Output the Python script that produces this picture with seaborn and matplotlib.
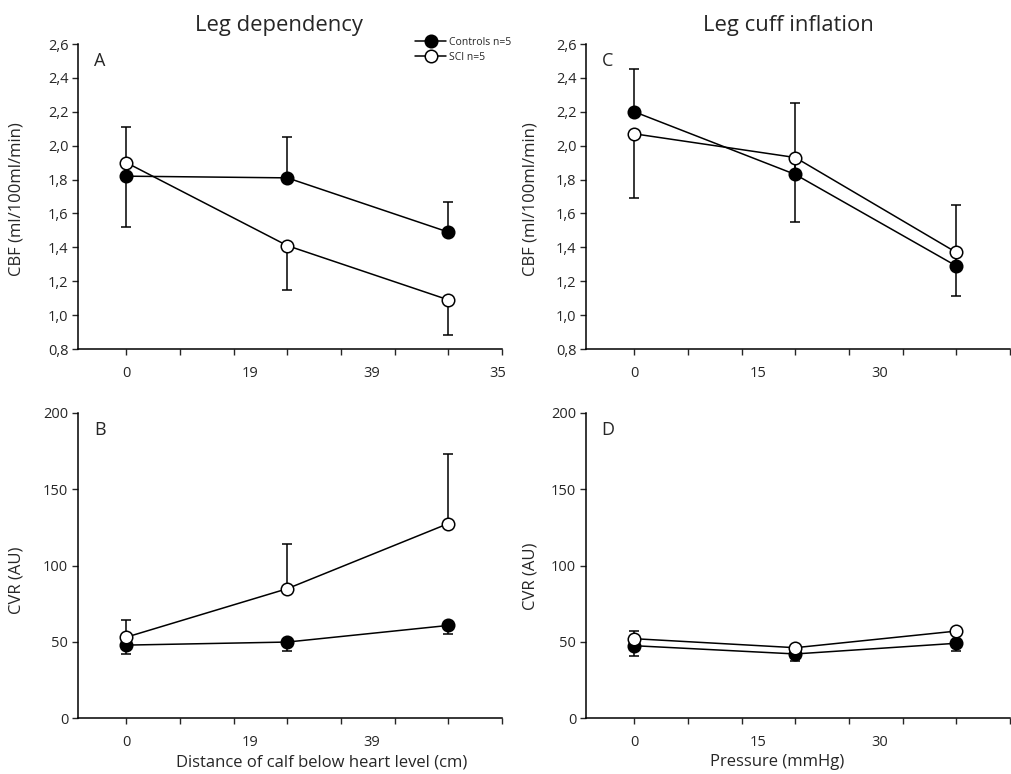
import matplotlib
matplotlib.use("Agg")
import matplotlib.pyplot as plt
import seaborn as sns

sns.set_style("ticks")
plt.rcParams['font.family'] = ['Open Sans', 'DejaVu Sans']

# x positions of the three conditions
steps = [0, 3, 6]

# A - CBF, leg dependency
cbf_dep_ctrl = [1.82, 1.81, 1.49]
cbf_dep_ctrl_err = [0.29, 0.24, 0.18]   # upper only
cbf_dep_sci = [1.90, 1.41, 1.09]
cbf_dep_sci_err = [0.38, 0.26, 0.21]    # lower only

# B - CVR, leg dependency
cvr_dep_ctrl = [47.8, 49.8, 60.7]
cvr_dep_ctrl_err = [5.9, 5.8, 5.5]      # lower only
cvr_dep_sci = [53.0, 84.8, 127.5]
cvr_dep_sci_err = [11.2, 29.4, 45.6]    # upper only

# C - CBF, leg cuff inflation
cbf_cuff_ctrl = [2.20, 1.83, 1.29]
cbf_cuff_ctrl_err = [0.25, 0.42, 0.36]
cbf_cuff_sci = [2.07, 1.93, 1.37]
cbf_cuff_sci_err = [0.38, 0.38, 0.26]

# D - CVR, leg cuff inflation
cvr_cuff_ctrl = [47.4, 42.0, 49.0]
cvr_cuff_ctrl_err = [6.5, 4.4, 5.3]
cvr_cuff_sci = [52.0, 46.1, 57.0]
cvr_cuff_sci_err = [4.9, 1.5, 2.0]

dep_ticklabels = ["0", "19", "39", "35"]
dep_ticklabels_b = ["0", "19", "39"]
cuff_ticklabels = ["0", "15", "30"]
label_pos = [0, 2.3, 4.57, 6.93]

cbf_ticks = [0.8, 1.0, 1.2, 1.4, 1.6, 1.8, 2.0, 2.2, 2.4, 2.6]
cvr_ticks = [0, 50, 100, 150, 200]

W, H = 1012, 774
fig = plt.figure(figsize=(W / 100, H / 100), dpi=100)


def make_ax(left_px, top_px):
    return fig.add_axes([left_px / W, 1 - (top_px + 305) / H, 424 / W, 305 / H])


def draw(ax, ctrl, ctrl_err, ctrl_up, sci, sci_err, letter, labels):
    z = [0, 0, 0]
    ctrl_yerr = [z, ctrl_err] if ctrl_up else [ctrl_err, z]
    sci_yerr = [sci_err, z] if ctrl_up else [z, sci_err]
    ax.errorbar(steps, ctrl, yerr=ctrl_yerr, fmt='none', ecolor='black',
                elinewidth=1.1, capsize=3.6, capthick=1.1, zorder=1)
    ax.errorbar(steps, sci, yerr=sci_yerr, fmt='none', ecolor='black',
                elinewidth=1.1, capsize=3.6, capthick=1.1, zorder=1)
    sns.lineplot(x=steps, y=ctrl, ax=ax, color='black', marker='o', markersize=9,
                 markerfacecolor='black', markeredgecolor='black', markeredgewidth=1.1,
                 linewidth=1.1, label='Controls n=5', zorder=3)
    sns.lineplot(x=steps, y=sci, ax=ax, color='black', marker='o', markersize=9,
                 markerfacecolor='white', markeredgecolor='black', markeredgewidth=1.1,
                 linewidth=1.1, label='SCI n=5', zorder=3)
    ax.set_xlim(-0.9, 7.0)
    ax.xaxis.remove_overlapping_locs = False
    ax.set_xticks(label_pos[:len(labels)], labels=labels)
    ax.set_xticks(range(0, 8), minor=True)
    ax.tick_params(axis='x', which='major', length=0, pad=12, labelsize=10.5)
    ax.tick_params(axis='x', which='minor', length=4, width=1, direction='out')
    ax.tick_params(axis='y', length=4, width=1, labelsize=10.5, pad=3)
    ax.text(0.052, 0.945, letter, transform=ax.transAxes, ha='center', va='center', fontsize=13)
    sns.despine(ax=ax)
    for s in ['left', 'bottom']:
        ax.spines[s].set_linewidth(1.1)
        ax.spines[s].set_color('black')
    ax.get_legend().remove()


axA = make_ax(78, 44)
draw(axA, cbf_dep_ctrl, cbf_dep_ctrl_err, True, cbf_dep_sci, cbf_dep_sci_err, 'A', dep_ticklabels)
axB = make_ax(78, 413)
draw(axB, cvr_dep_ctrl, cvr_dep_ctrl_err, False, cvr_dep_sci, cvr_dep_sci_err, 'B', dep_ticklabels_b)
axC = make_ax(586, 44)
draw(axC, cbf_cuff_ctrl, cbf_cuff_ctrl_err, True, cbf_cuff_sci, cbf_cuff_sci_err, 'C', cuff_ticklabels)
axD = make_ax(586, 413)
draw(axD, cvr_cuff_ctrl, cvr_cuff_ctrl_err, False, cvr_cuff_sci, cvr_cuff_sci_err, 'D', cuff_ticklabels)

for ax in [axA, axC]:
    ax.set_ylim(0.8, 2.6)
    ax.set_yticks(cbf_ticks, labels=[f"{t:.1f}".replace('.', ',') for t in cbf_ticks])
    ax.set_ylabel('CBF (ml/100ml/min)', fontsize=12, va='center')
for ax in [axB, axD]:
    ax.set_ylim(0, 200)
    ax.set_yticks(cvr_ticks, labels=[str(t) for t in cvr_ticks])
    ax.set_ylabel('CVR (AU)', fontsize=12, va='center')

axA.yaxis.set_label_coords(-0.144, 0.49)
axC.yaxis.set_label_coords(-0.132, 0.49)
axB.yaxis.set_label_coords(-0.144, 0.45)
axD.yaxis.set_label_coords(-0.132, 0.465)

axB.set_xlabel('Distance of calf below heart level (cm)', fontsize=12, va='center')
axB.xaxis.set_label_coords(0.575, -0.145)
axD.set_xlabel('Pressure (mmHg)', fontsize=12, va='center')
axD.xaxis.set_label_coords(0.45, -0.145)

fig.text(279 / W, 1 - 25 / H, 'Leg dependency', ha='center', va='center', fontsize=15.8)
fig.text(788 / W, 1 - 25 / H, 'Leg cuff inflation', ha='center', va='center', fontsize=15.8)

labels = ['Controls n=5', 'SCI n=5']
handles = [l for l in axA.get_lines() if l.get_label() in labels]
axA.legend(handles, labels, loc='upper left', bbox_to_anchor=(415 / W, 1 - 37 / H),
           bbox_transform=fig.transFigure, frameon=False, fontsize=7.5,
           handlelength=3.0, handletextpad=0.3, labelspacing=0.35, borderpad=0,
           borderaxespad=0, markerscale=1.0)

fig.savefig('out.png', dpi=100)
